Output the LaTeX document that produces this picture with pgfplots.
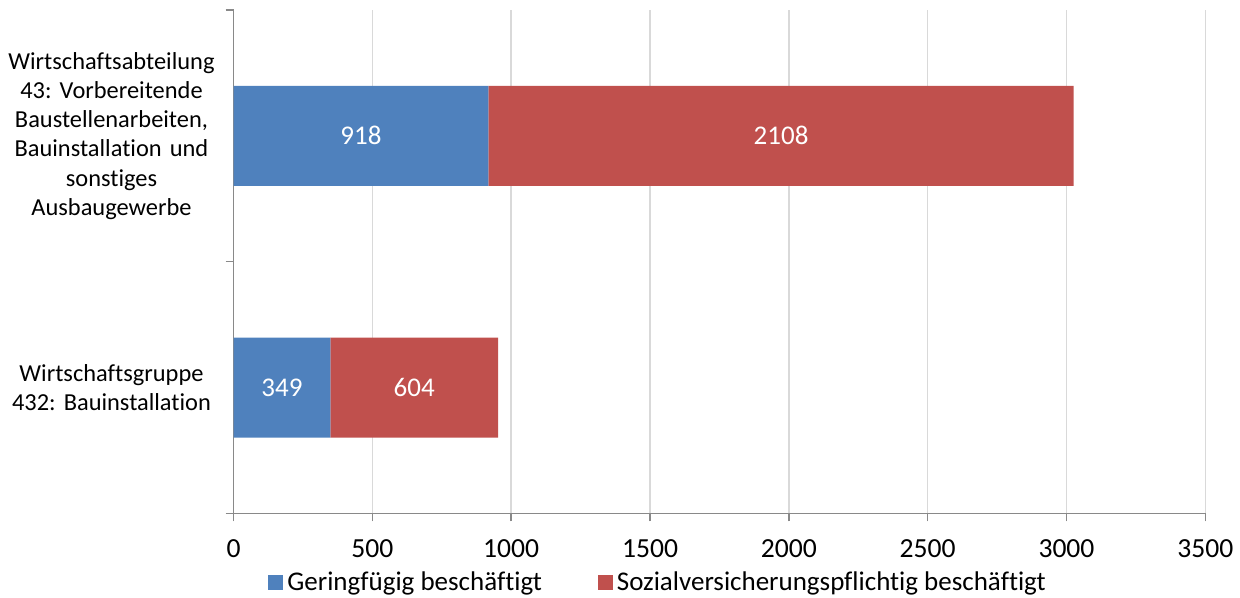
\documentclass[border=0pt]{standalone}
\usepackage{pgfplots}
\pgfplotsset{compat=1.18}
\usepackage{fontspec}
\setmainfont{Carlito}[Ligatures=NoCommon]
\frenchspacing
\definecolor{cblue}{HTML}{4F81BD}
\definecolor{cred}{HTML}{C0504D}
\definecolor{gridgray}{HTML}{D9D9D9}
\definecolor{axgray}{HTML}{898989}
\begin{document}
\begin{tikzpicture}
\begin{axis}[
  scale only axis,
  width=485.9bp, height=251.75bp,
  xbar stacked,
  bar width=50bp,
  xmin=0, xmax=3500,
  ymin=-0.5, ymax=1.5,
  xtick={0,500,...,3500},
  ytick={-0.5,0.5,1.5},
  yticklabels={},
  extra y ticks={0,1},
  extra y tick labels={{Wirtschaftsgruppe\\432: Bauinstallation},{Wirtschaftsabteilung\\43: Vorbereitende\\Baustellenarbeiten,\\Bauinstallation und\\sonstiges\\Ausbaugewerbe}},
  extra y tick style={major tick length=0pt, grid=none},
  yticklabel style={align=center, text width=104bp, xshift=-5.5bp, font=\fontsize{12.2bp}{14.6bp}\selectfont},
  axis x line*=bottom, axis y line*=left,
  axis line style={draw=axgray, line width=0.75bp},
  tick align=outside,
  major tick length=4bp,
  tick style={draw=axgray, line width=0.75bp},
  xmajorgrids, ymajorgrids=false,
  major x grid style={draw=gridgray, line width=0.75bp},
  /pgf/number format/assume math mode=true,
  /pgf/number format/1000 sep={},
  xticklabel style={font=\fontsize{13.8bp}{16bp}\selectfont, yshift=-5.5bp},
  nodes near coords,
  every node near coord/.append style={anchor=center, text=white, font=\fontsize{13.5bp}{16bp}\selectfont},
  legend image code/.code={\fill[#1] (0bp,-3.75bp) rectangle (7.5bp,3.75bp);},
  legend style={at={(rel axis cs:0.0355,-0.138)}, anchor=west, draw=none, fill=none,
    legend columns=-1, inner sep=0pt,
    font=\fontsize{13.5bp}{16bp}\selectfont,
    /tikz/every even column/.append style={column sep=26bp}},
  clip=false,
]
\addplot[fill=cblue, draw=none] coordinates {(349,0) (918,1)};
\addplot[fill=cred, draw=none] coordinates {(604,0) (2108,1)};
\legend{Geringfügig beschäftigt, Sozialversicherungspflichtig beschäftigt}
\coordinate (bbA) at (rel axis cs:-0.2403,-0.1678);
\coordinate (bbB) at (rel axis cs:1.0357,1.01986);
\end{axis}
\pgfresetboundingbox
\path[use as bounding box] (bbA) rectangle (bbB);
\end{tikzpicture}
\end{document}
